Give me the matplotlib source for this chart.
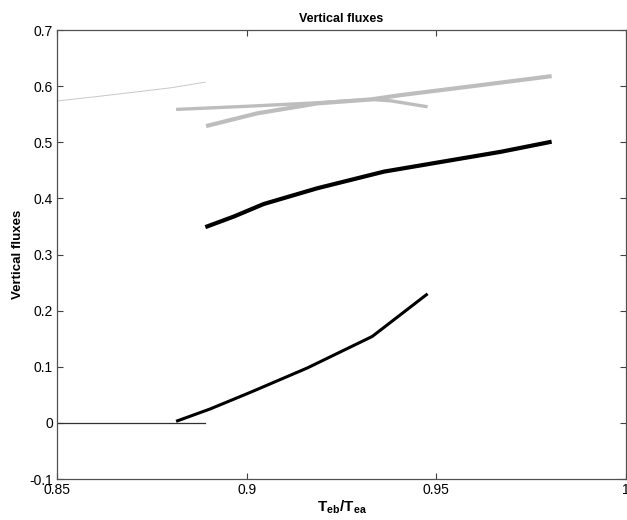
import numpy as np
import matplotlib
matplotlib.use('Agg')
import matplotlib.pyplot as plt
from matplotlib.ticker import FuncFormatter

plt.rcParams['font.family'] = ['Liberation Sans', 'DejaVu Sans']
plt.rcParams['mathtext.fontset'] = 'custom'
plt.rcParams['mathtext.rm'] = 'Liberation Sans'
plt.rcParams['mathtext.bf'] = 'Liberation Sans:bold'

# thin gray line at the left
thin_gray_x = [0.850, 0.860, 0.870, 0.880, 0.889]
thin_gray_y = [0.5735, 0.581, 0.589, 0.597, 0.607]

# thin dark line along zero
thin_zero_x = [0.850, 0.889]
thin_zero_y = [0.0, 0.0]

# gray curve, bends down at the end
gray1_x = [0.8814, 0.901, 0.9186, 0.9327, 0.938, 0.9477]
gray1_y = [0.5585, 0.5644, 0.5703, 0.5763, 0.5738, 0.5632]

# thick gray curve
gray2_x = [0.8893, 0.9027, 0.9186, 0.9327, 0.9406, 0.9617, 0.9804]
gray2_y = [0.5288, 0.5514, 0.5692, 0.5763, 0.584, 0.6018, 0.6178]

# thick black curve
black1_x = [0.8891, 0.8966, 0.9045, 0.9186, 0.9362, 0.967, 0.9804]
black1_y = [0.3488, 0.3676, 0.390, 0.418, 0.4477, 0.483, 0.501]

# lower black curve
black2_x = [0.8814, 0.8904, 0.901, 0.916, 0.9331, 0.9477]
black2_y = [0.0028, 0.0249, 0.0545, 0.0979, 0.154, 0.230]

xticks = [0.85, 0.9, 0.95, 1.0]
yticks = [-0.1, 0, 0.1, 0.2, 0.3, 0.4, 0.5, 0.6, 0.7]

fig = plt.figure(figsize=(6.27, 5.2), dpi=100)
ax = fig.add_axes([0.0909, 0.0788, 0.9075, 0.8635])

gray = '#bdbdbd'
ax.plot(thin_gray_x, thin_gray_y, color='#c8c8c8', lw=0.7)
ax.plot(thin_zero_x, thin_zero_y, color='#303030', lw=0.9)
ax.plot(gray1_x, gray1_y, color=gray, lw=2.4, solid_capstyle='butt')
ax.plot(gray2_x, gray2_y, color=gray, lw=3.0, solid_capstyle='butt')
ax.plot(black1_x, black1_y, color='black', lw=3.0, solid_capstyle='butt')
ax.plot(black2_x, black2_y, color='black', lw=2.2, solid_capstyle='butt')

ax.set_xlim(0.85, 1.0)
ax.set_ylim(-0.1, 0.7)
ax.set_xticks(xticks)
ax.set_yticks(yticks)
fmt = FuncFormatter(lambda v, p: '%g' % round(v, 4))
ax.xaxis.set_major_formatter(fmt)
ax.yaxis.set_major_formatter(fmt)
ax.tick_params(direction='in', top=True, right=True, length=4.5, width=0.8,
               color='#404040', labelsize=10, pad=3)
for s in ax.spines.values():
    s.set_color('#505050')
    s.set_linewidth(0.9)

ax.set_title('Vertical fluxes', fontsize=9, fontweight='bold', pad=6)
ax.set_ylabel('Vertical fluxes', fontsize=9.5, fontweight='bold', labelpad=4)
ax.set_xlabel(r'T$_{\mathbf{eb}}$/T$_{\mathbf{ea}}$', fontsize=11, fontweight='bold', labelpad=1)

fig.savefig('out.png', dpi=100)
